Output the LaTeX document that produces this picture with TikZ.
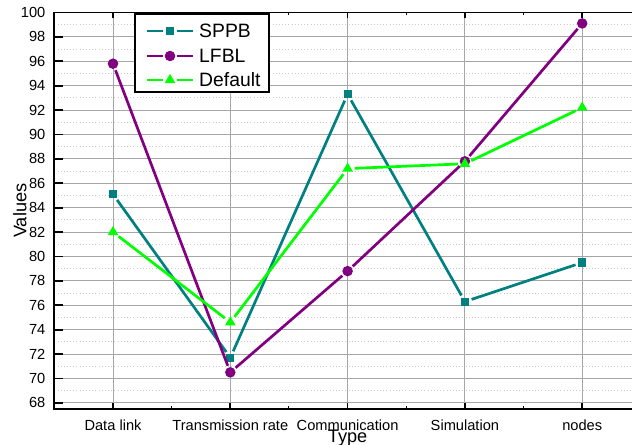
\documentclass[tikz,border=0pt]{standalone}
\usepackage{fontspec}
\setmainfont{Liberation Sans}
\usetikzlibrary{positioning,shapes.geometric}

\definecolor{sppbcol}{RGB}{0,128,128}
\definecolor{lfblcol}{RGB}{128,0,128}
\definecolor{defcol}{RGB}{0,255,0}

\begin{document}
\begin{tikzpicture}[
  x=0.03cm, y=0.03cm,
  ticklab/.style={inner sep=0pt, font=\fontsize{12.5}{14}\selectfont},
  axtitle/.style={inner sep=0pt, font=\fontsize{15.5}{18}\selectfont},
  legtext/.style={inner sep=0pt, anchor=west, font=\fontsize{16.5}{19}\selectfont},
  majgrid/.style={draw=gray!70, line width=0.8pt},
  mingrid/.style={draw=gray!40, dotted, line width=0.7pt},
  frame/.style={draw=black, line width=1.5pt},
  tickmk/.style={draw=black, line width=1.5pt},
  series/.style={line width=2.3pt, shorten <=6pt, shorten >=6pt},
  sqmark/.style={rectangle, fill=sppbcol, minimum size=7pt, inner sep=0pt},
  cimark/.style={circle, fill=lfblcol, minimum size=9pt, inner sep=0pt},
  trmark/.style={regular polygon, regular polygon sides=3, fill=defcol, minimum size=10.5pt, inner sep=0pt},
]

\useasboundingbox (0,0) rectangle (632,445);

% Plot area in data units
\begin{scope}[shift={(-4.3,-787.5)}, x=3.519cm, y=0.366cm]

% Grid
\foreach \v in {69,71,...,99}
  \draw[mingrid] (0.5,\v) -- (5.5,\v);
\foreach \v in {68,70,...,98}
  \draw[majgrid] (0.5,\v) -- (5.5,\v);
\foreach \i in {1,...,5}
  \draw[majgrid] (\i,67.5) -- (\i,100);

% Frame and ticks
\draw[frame] (5.5,100) -- (0.5,100) -- (0.5,67.5) -- (5.5,67.5);
\foreach \v in {68,70,...,100}
  \draw[tickmk] (0.5,\v) -- ++(7pt,0);
\foreach \i in {1,...,5} {
  \draw[tickmk] (\i,67.5) -- ++(0,5pt);
  \draw[tickmk] (\i,100) -- ++(0,-5pt);
}
\foreach \i in {1.5,2.5,3.5,4.5} {
  \draw[tickmk, line width=0.8pt] (\i,67.5) -- ++(0,2.5pt);
  \draw[tickmk, line width=0.8pt] (\i,100) -- ++(0,-2.5pt);
}

% Tick labels
\foreach \v in {68,70,...,100}
  \node[ticklab, anchor=east, xshift=-7.5pt] (ylab\v) at (0.5,\v) {\v};
\foreach \c [count=\i] in {Data link, Transmission rate, Communication, Simulation, nodes}
  \node[ticklab, anchor=base, yshift=-18pt] (xlab\i) at (\i,67.5) {\c};

% Axis titles
\node[axtitle, anchor=base, yshift=-29pt] (xtitle) at (3,67.5) {Type};
\node[axtitle, rotate=90] (ytitle) at ([xshift=-29.5pt]0.5,83.75) {Values};

% SPPB
\foreach \v [count=\i] in {85.1,71.7,93.3,76.3,79.5}
  \coordinate (sppb\i) at (\i,\v);
\foreach \a/\b in {1/2,2/3,3/4,4/5}
  \draw[series, sppbcol] (sppb\a) -- (sppb\b);
\foreach \i in {1,...,5}
  \node[sqmark] (sppbm\i) at (sppb\i) {};

% LFBL
\foreach \v [count=\i] in {95.8,70.5,78.8,87.8,99.1}
  \coordinate (lfbl\i) at (\i,\v);
\foreach \a/\b in {1/2,2/3,3/4,4/5}
  \draw[series, lfblcol] (lfbl\a) -- (lfbl\b);
\foreach \i in {1,...,5}
  \node[cimark] (lfblm\i) at (lfbl\i) {};

% Default
\foreach \v [count=\i] in {82.0,74.6,87.2,87.6,92.2}
  \coordinate (dflt\i) at (\i,\v);
\foreach \a/\b in {1/2,2/3,3/4,4/5}
  \draw[series, defcol] (dflt\a) -- (dflt\b);
\foreach \i in {1,...,5}
  \node[trmark] (dfltm\i) at (dflt\i) {};

\end{scope}

% Legend
\coordinate (legsw) at (135,353);
\coordinate (legne) at (269,431);
\draw[fill=white, line width=0.9pt] (legsw) rectangle (legne);
\foreach \nm/\col/\mk/\yy in {SPPB/sppbcol/sqmark/414, LFBL/lfblcol/cimark/389, Default/defcol/trmark/365} {
  \coordinate (leg\nm a) at (147,\yy);
  \coordinate (leg\nm m) at (170,\yy);
  \coordinate (leg\nm b) at (193,\yy);
  \draw[line width=2.3pt, \col, shorten >=6pt] (leg\nm a) -- (leg\nm m);
  \draw[line width=2.3pt, \col, shorten <=6pt] (leg\nm m) -- (leg\nm b);
  \node[\mk] (legmk\nm) at (leg\nm m) {};
  \node[legtext] (legtx\nm) at (199,\yy) {\nm};
}

\end{tikzpicture}
\end{document}
